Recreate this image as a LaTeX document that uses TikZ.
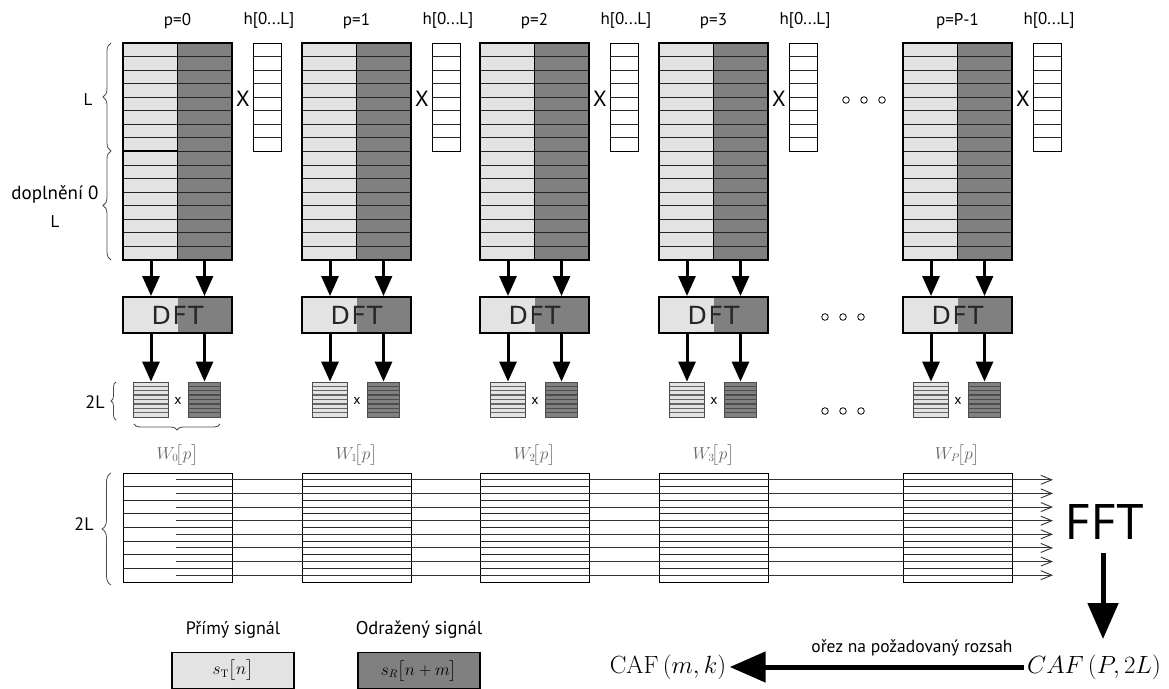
\documentclass[tikz,border=0pt]{standalone}
\usepackage{amsmath}
\usepackage[no-math]{fontspec}
\setmainfont{PT Sans}
\newfontfamily\dftpismo[LetterSpace=7]{DejaVu Sans}
\usetikzlibrary{arrows.meta,positioning,calc,decorations.pathreplacing}
\definecolor{svetla}{gray}{0.89}
\definecolor{tmava}{gray}{0.5}
\tikzset{
  fs/.style={font=\fontsize{#1}{#1}\selectfont},
  rowline/.style={black!85,line width=1pt},
  blk/.style={draw,line width=1.2pt,inner sep=0pt,minimum width=109pt,minimum height=217pt},
  hvec/.style={draw,thick,inner sep=0pt,minimum width=28pt,minimum height=108pt},
  bm/.style={draw,thick,inner sep=0pt,minimum width=109pt,minimum height=109pt},
  dftbox/.style={draw,line width=2pt,inner sep=0pt,minimum width=109pt,minimum height=36pt,
    font=\dftpismo\fontsize{25}{25}\selectfont,text=black!85,
    path picture={\fill[svetla] (path picture bounding box.south west) rectangle (path picture bounding box.north);
      \fill[tmava] (path picture bounding box.south) rectangle (path picture bounding box.north east);}},
  stripes/.style={draw=black!70,thick,inner sep=0pt,minimum height=35pt,
    path picture={\foreach \k in {1,...,7}{\draw[#1,line width=1.3pt]
      ($(path picture bounding box.north west)!\k/8!(path picture bounding box.south west)$) --
      ($(path picture bounding box.north east)!\k/8!(path picture bounding box.south east)$);}}},
  sma/.style={stripes=gray!80!black,fill=svetla,minimum width=35pt},
  smb/.style={stripes=black!70,fill=tmava,minimum width=32pt},
  sipka/.style={-{Triangle[length=20pt,width=17pt]},line width=3pt},
  velka/.style={-{Triangle[length=36pt,width=30pt]},line width=5pt},
  tok/.style={-{Straight Barb[length=11pt,width=9pt]},black!80,line width=0.9pt},
  zavorka/.style={decorate,decoration={brace,amplitude=#1},thick,black!70},
  legbox/.style={draw,line width=1.2pt,inner sep=0pt,minimum width=122pt,minimum height=36pt,fs=16}
}
\begin{document}
\begin{tikzpicture}[x=1pt,y=-1pt]
\useasboundingbox (0,0) rectangle (1169,688);
\foreach \x/\lab/\w [count=\i] in {123/0/0,302/1/1,480/2/2,659/3/3,903/P-1/P}{
  \fill[svetla] (\x,43) rectangle ++(54.5,217);
  \fill[tmava] (\x+54.5,43) rectangle ++(54.5,217);
  \foreach \r in {1,...,15} \draw[rowline] (\x,{43+\r*13.5625}) -- ++(109,0);
  \node[blk] (blk\i) at (\x+54.5,151.5) {};
  \draw[thick] (blk\i.north) -- (blk\i.south);
  \node[fs=17] (pl\i) at (\x+54.5,21) {p=\lab};
  \node[hvec] (h\i) at (\x+144,97) {};
  \foreach \r in {1,...,7} \draw[rowline] (\x+130,{43+\r*13.5}) -- ++(28,0);
  \node[fs=17] (hl\i) at (\x+146,20) {h[0...L]};
  \node[fs=22] (kr\i) at (\x+120,99) {X};
  \node[dftbox] (dft\i) at (\x+54.5,315) {DFT};
  \node[sma] (sa\i) at (\x+28,399.5) {};
  \node[smb] (sb\i) at (\x+81.5,399.5) {};
  \node[fs=14] (xs\i) at (\x+55,401) {x};
  \draw[sipka] (blk\i.south -| sa\i) -- (dft\i.north -| sa\i);
  \draw[sipka] (blk\i.south -| sb\i) -- (dft\i.north -| sb\i);
  \draw[sipka] (dft\i.south -| sa\i) -- (sa\i.north);
  \draw[sipka] (dft\i.south -| sb\i) -- (sb\i.north);
  \node[fs=16,text=black!60] (w\i) at (\x+54.5,455) {$W_{\w}\!\bigl[p\bigr]$};
  \node[bm] (bm\i) at (\x+54.5,527.5) {};
  \foreach \r in {1,...,7} \draw[rowline] (\x,{473+\r*13.625}) -- ++(109,0);
}
\draw[line width=1.6pt] (123,151) -- (177.5,151);
\foreach \r in {1,...,8}{
  \coordinate (zac\r) at (176,{473+(\r-0.5)*13.625});
  \coordinate (kon\r) at (1053,{473+(\r-0.5)*13.625});
  \draw[tok] (zac\r) -- (kon\r);
}
\foreach \c in {0,1,2}{
  \draw[thick] (846+\c*18,100) circle (3.3pt);
  \draw[thick] (825+\c*18,317) circle (3.3pt);
  \draw[thick] (825+\c*18,411) circle (3.3pt);
}
\draw[zavorka=8pt] (111,151) -- (111,43);
\node[fs=17] (lL) at (88,100) {L};
\draw[zavorka=8pt] (111,260) -- (111,151);
\node[fs=19] (dopl) at (55,194) {doplnění 0};
\node[fs=17] (lL2) at (55,222) {L};
\draw[zavorka=5pt] (116,420) -- (116,382);
\node[fs=18] (l2a) at (95,402) {2L};
\draw[zavorka=6pt] (220,424) -- (134,424);
\draw[zavorka=9pt] (111,585) -- (111,473);
\node[fs=18] (l2b) at (84,524) {2L};
\node[fs=50] (fft) at (1105,522) {FFT};
\node[fs=24] (cafp) at (1094,667) {$CAF\left(P,2L\right)$};
\node[fs=23] (cafm) at (668,667) {$\mathrm{CAF}\left(m,k\right)$};
\draw[velka] ([xshift=-2pt,yshift=-10pt]fft.south) -- ([xshift=-2pt,yshift=12pt]fft.south |- cafp.north);
\draw[velka] (cafp.west) -- (cafm.east) node[pos=0.38,above=5pt,fs=17.5] (orez) {ořez na požadovaný rozsah};
\node[fs=18] (prim) at (233,630) {Přímý signál};
\node[legbox,fill=svetla,below=10pt of prim] (legT) {$s_{\mathrm{T}}\bigl[n\bigr]$};
\node[fs=18.5] (odr) at (419,630) {Odražený signál};
\node[legbox,fill=tmava,below=10pt of odr] (legR) {$s_{R}\bigl[n+m\bigr]$};
\end{tikzpicture}
\end{document}
